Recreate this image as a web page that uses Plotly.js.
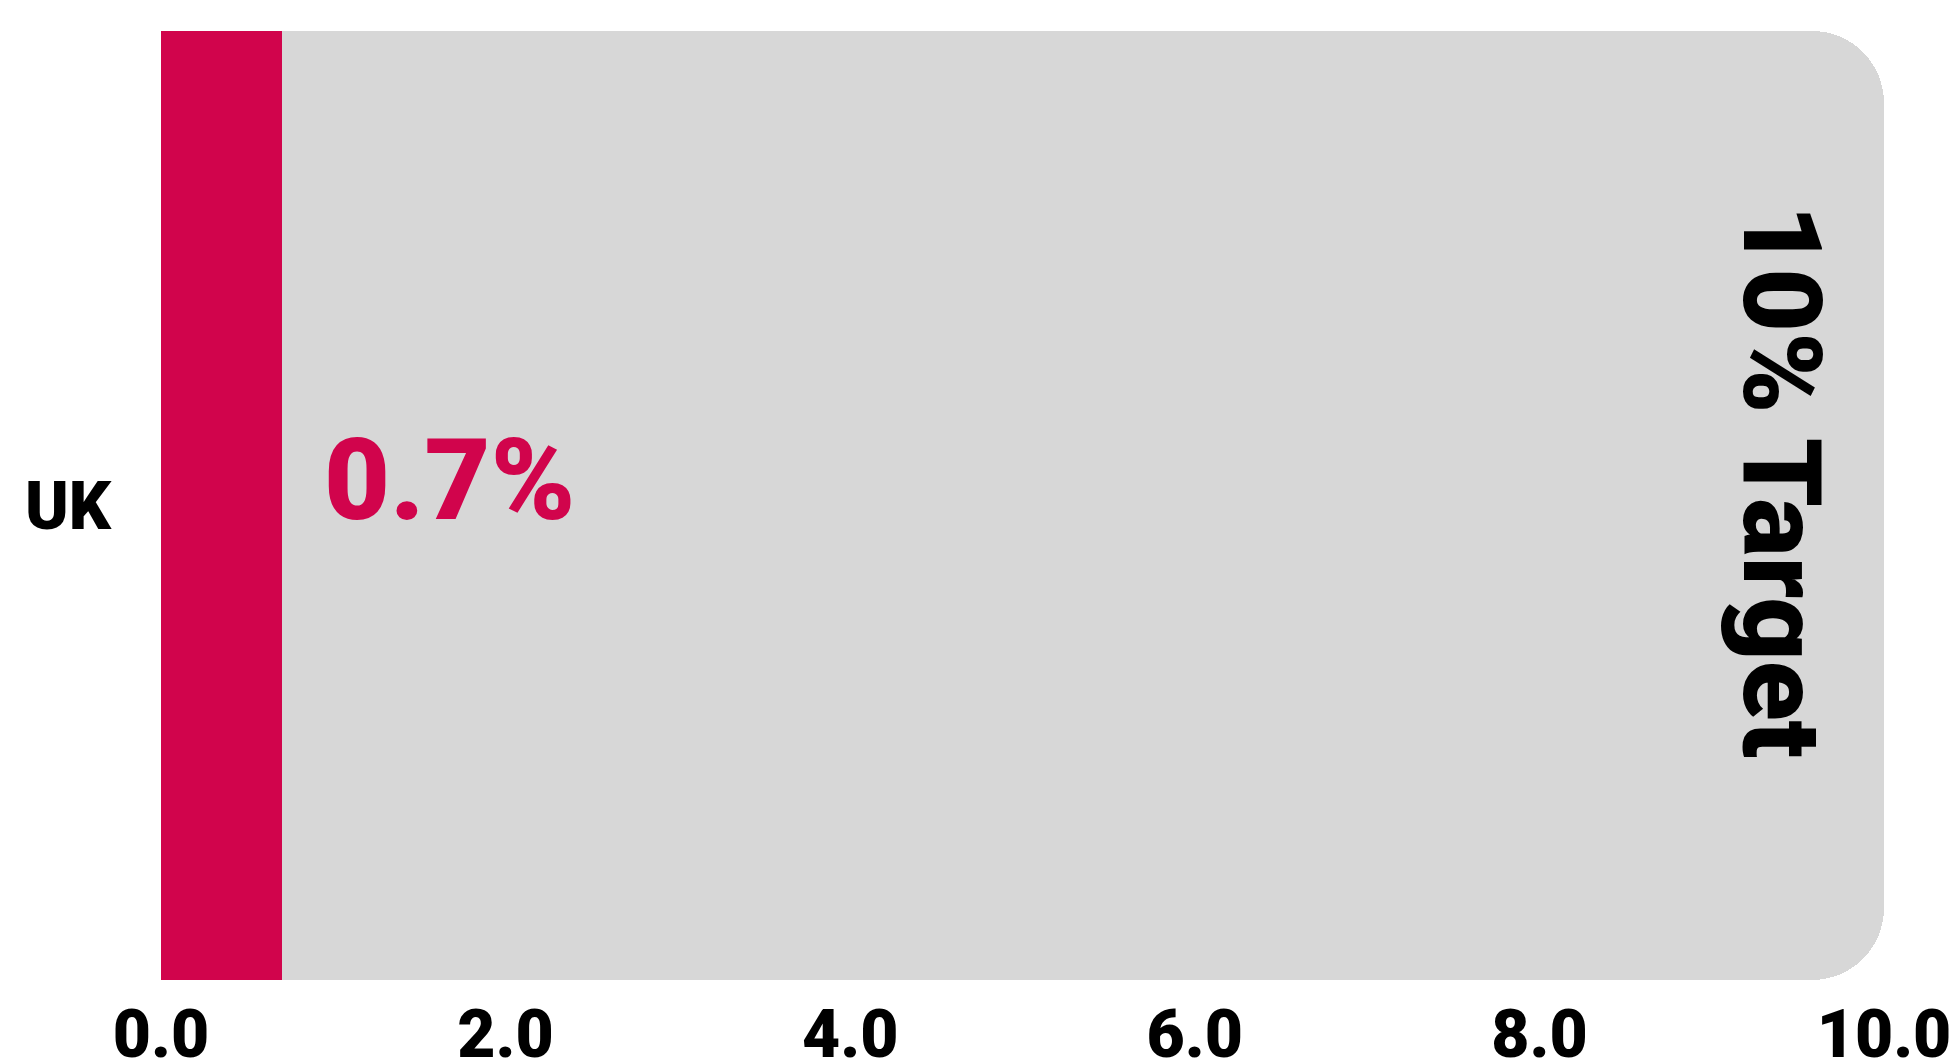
<!DOCTYPE html>
<html>
<head>
<meta charset="utf-8">
<script src="https://cdn.plot.ly/plotly-3.0.1.min.js"></script>
<style>
  html, body { margin: 0; padding: 0; background: #ffffff; }
  #chart { width: 1957px; height: 1062px; }
</style>
</head>
<body>
<div id="chart"></div>
<script>
const categories = ["UK"];
const actualValues = [0.7];
const targetValues = [10];
const targetLabel = "10% Target";
const tickValues = [0, 2, 4, 6, 8, 10];
const tickLabels = ["0.0", "2.0", "4.0", "6.0", "8.0", "10.0"];

const RED = "#D1044C";
const GREY = "#D7D7D7";
const FONT = "Roboto, 'Open Sans', 'DejaVu Sans', sans-serif";

const traces = [
  {
    type: "bar",
    orientation: "h",
    y: categories,
    x: targetValues,
    marker: { color: GREY, cornerradius: 72, line: { width: 0 } },
    hoverinfo: "skip",
    showlegend: false
  },
  {
    type: "bar",
    orientation: "h",
    y: categories,
    x: actualValues,
    marker: { color: RED, line: { width: 0 } },
    hoverinfo: "skip",
    showlegend: false
  }
];

const layout = {
  width: 1957,
  height: 1062,
  margin: { l: 161, r: 73, t: 31, b: 82, pad: 0 },
  paper_bgcolor: "#ffffff",
  plot_bgcolor: "#ffffff",
  barmode: "overlay",
  bargap: 0,
  showlegend: false,
  xaxis: {
    range: [0, 10],
    tickvals: tickValues,
    ticktext: tickLabels,
    showgrid: false,
    zeroline: false,
    showline: false,
    ticks: "",
    ticklabelstandoff: 10,
    tickfont: { family: FONT, size: 66, color: "#000000", weight: 900 }
  },
  yaxis: {
    showgrid: false,
    zeroline: false,
    showline: false,
    ticks: "",
    ticklabelstandoff: 49,
    tickfont: { family: FONT, size: 66, color: "#000000", weight: 900 }
  },
  annotations: [
    {
      x: actualValues[0],
      y: categories[0],
      xref: "x",
      yref: "y",
      text: actualValues[0].toFixed(1) + "%",
      showarrow: false,
      xanchor: "left",
      yanchor: "middle",
      xshift: 40,
      yshift: 26,
      font: { family: FONT, size: 114, color: RED, weight: 900 }
    },
    {
      x: targetValues[0],
      y: categories[0],
      xref: "x",
      yref: "y",
      text: targetLabel,
      textangle: 90,
      showarrow: false,
      xanchor: "center",
      yanchor: "middle",
      xshift: -103,
      yshift: 24,
      font: { family: FONT, size: 110, color: "#000000", weight: 900 }
    }
  ]
};

Plotly.newPlot("chart", traces, layout, { displayModeBar: false, staticPlot: true });
</script>
</body>
</html>
